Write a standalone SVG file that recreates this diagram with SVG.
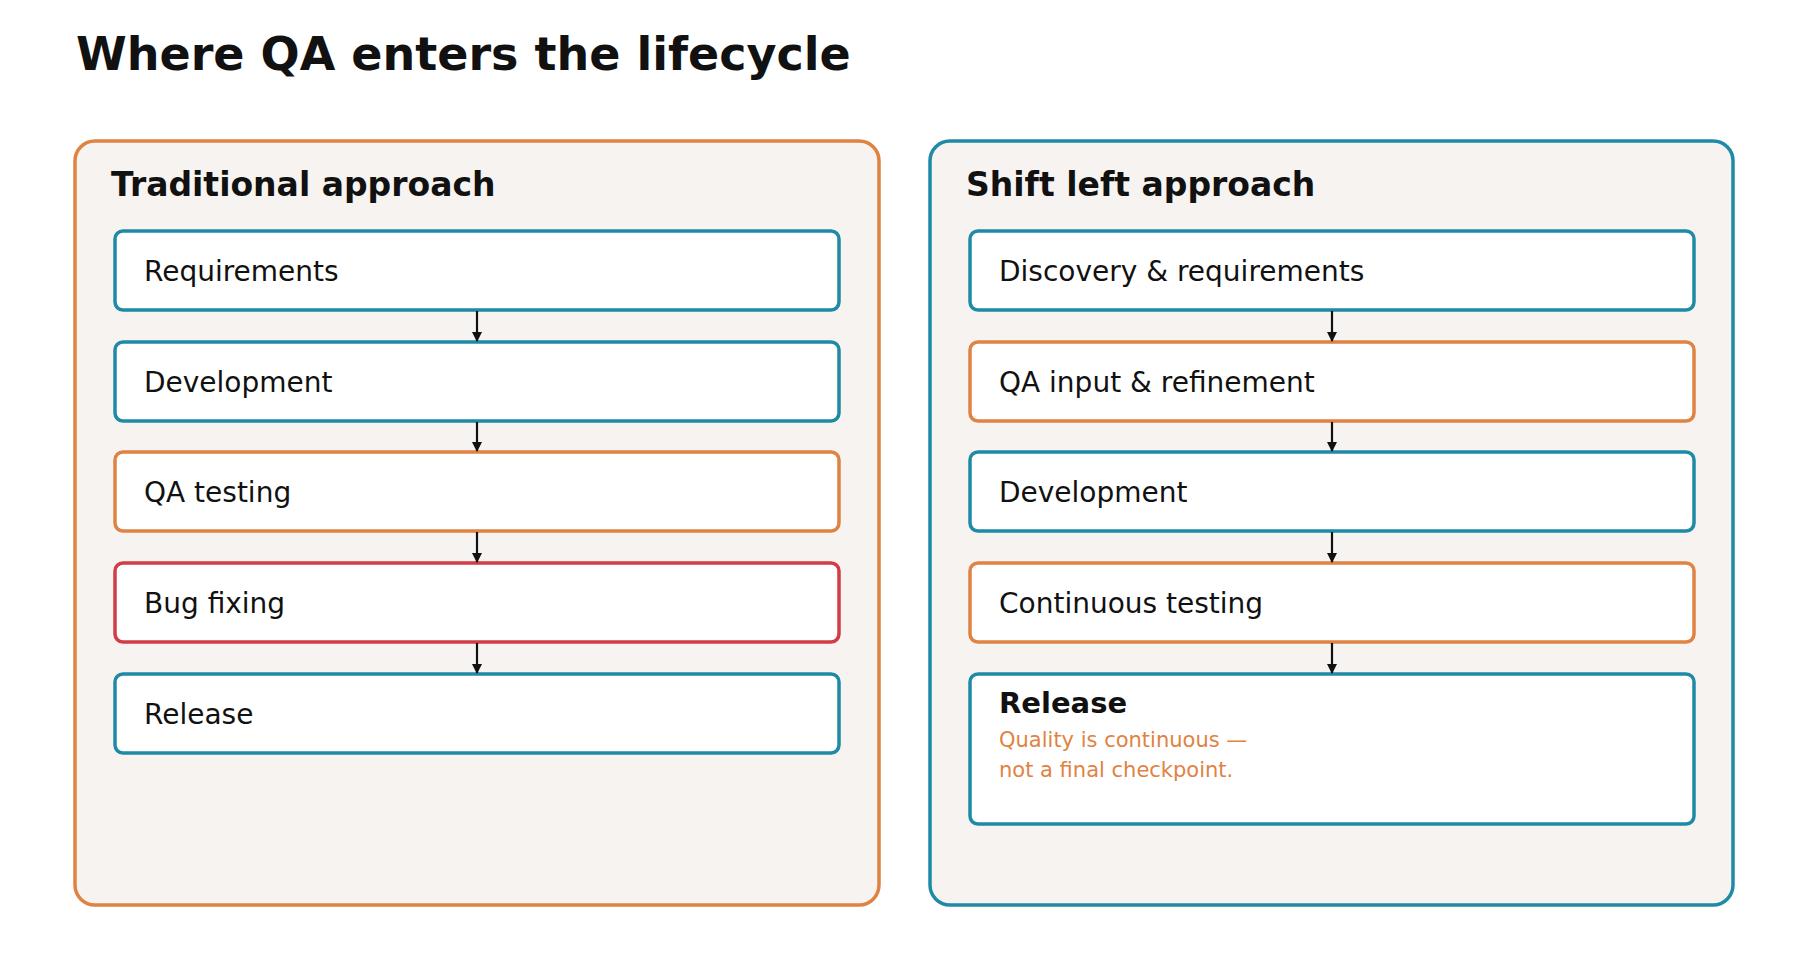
<svg xmlns="http://www.w3.org/2000/svg" width="1800" height="960" viewBox="0 0 1800 960">
<style>
text{font-family:"DejaVu Sans",sans-serif;fill:#111}
.panel{fill:#f7f3f0;stroke-width:3.5}
.box{fill:#fff;stroke-width:3.5}
.b{stroke:#1f8aa6}.o{stroke:#df8343}.r{stroke:#d13c45}
.lbl{font-size:28px}
.pt{font-size:33px;font-weight:bold}
.ar{stroke:#111;stroke-width:2.2;fill:none;marker-end:url(#ah)}
</style>
<defs><marker id="ah" markerWidth="10" markerHeight="10" refX="9" refY="5" orient="auto" markerUnits="userSpaceOnUse"><path d="M0,0L10,5L0,10Z" fill="#111"/></marker></defs>
<rect width="1800" height="960" fill="#fff"/>
<text x="76" y="70" style="font-size:46px;font-weight:bold">Where QA enters the lifecycle</text>
<g id="traditional">
<rect class="panel o" x="75" y="141" width="804" height="764" rx="20"/>
<text class="pt" x="111" y="196">Traditional approach</text>
</g>
<g id="shiftleft">
<rect class="panel b" x="930" y="141" width="803" height="764" rx="20"/>
<text class="pt" x="966" y="196">Shift left approach</text>
</g>
<g id="t1"><rect class="box b" x="115" y="231" width="724" height="79" rx="8"/><text class="lbl" x="144" y="281">Requirements</text></g>
<g id="t2"><rect class="box b" x="115" y="342" width="724" height="79" rx="8"/><text class="lbl" x="144" y="392">Development</text></g>
<g id="t3"><rect class="box o" x="115" y="452" width="724" height="79" rx="8"/><text class="lbl" x="144" y="502">QA testing</text></g>
<g id="t4"><rect class="box r" x="115" y="563" width="724" height="79" rx="8"/><text class="lbl" x="144" y="613">Bug fixing</text></g>
<g id="t5"><rect class="box b" x="115" y="674" width="724" height="79" rx="8"/><text class="lbl" x="144" y="724">Release</text></g>
<g id="s1"><rect class="box b" x="970" y="231" width="724" height="79" rx="8"/><text class="lbl" x="999" y="281">Discovery &amp; requirements</text></g>
<g id="s2"><rect class="box o" x="970" y="342" width="724" height="79" rx="8"/><text class="lbl" x="999" y="392">QA input &amp; refinement</text></g>
<g id="s3"><rect class="box b" x="970" y="452" width="724" height="79" rx="8"/><text class="lbl" x="999" y="502">Development</text></g>
<g id="s4"><rect class="box o" x="970" y="563" width="724" height="79" rx="8"/><text class="lbl" x="999" y="613">Continuous testing</text></g>
<g id="s5"><rect class="box b" x="970" y="674" width="724" height="150" rx="8"/>
<text x="999" y="713" style="font-size:29px;font-weight:bold">Release</text>
<text x="999" y="747" style="font-size:21px;fill:#df8343">Quality is continuous —</text>
<text x="999" y="777" style="font-size:21px;fill:#df8343">not a final checkpoint.</text></g>
<g id="connectors">
<path class="ar" d="M477,311V341"/><path class="ar" d="M477,422V451"/><path class="ar" d="M477,532V562"/><path class="ar" d="M477,643V673"/>
<path class="ar" d="M1332,311V341"/><path class="ar" d="M1332,422V451"/><path class="ar" d="M1332,532V562"/><path class="ar" d="M1332,643V673"/>
</g>
</svg>
